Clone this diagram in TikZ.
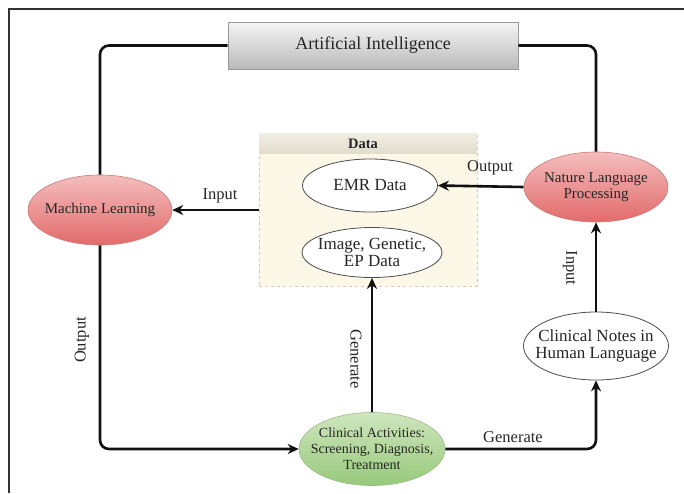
\documentclass[tikz,border=0pt]{standalone}
\usepackage{fontspec}
\setmainfont{Liberation Serif}
\usetikzlibrary{shapes.geometric,arrows.meta}
\definecolor{conncol}{HTML}{111111}
\definecolor{redtop}{HTML}{F4BDBD}
\definecolor{redbot}{HTML}{E26A6A}
\definecolor{redbrd}{HTML}{C97A7A}
\definecolor{grtop}{HTML}{CFE6BE}
\definecolor{grbot}{HTML}{97C97A}
\definecolor{grbrd}{HTML}{9DBB86}
\definecolor{datafill}{HTML}{FCF7E6}
\definecolor{databrd}{HTML}{D8CCA0}
\definecolor{headtop}{HTML}{F0EDE2}
\definecolor{headbot}{HTML}{E2DECE}
\definecolor{txt}{HTML}{262626}
\tikzset{
  conn/.style={line width=2.6pt, draw=conncol, rounded corners=9pt},
  arr/.style={conn, -{Stealth[length=11pt,width=10pt]}},
  redell/.style={ellipse, draw=redbrd, line width=0.6pt, top color=redtop, bottom color=redbot,
    minimum width=144pt, minimum height=70pt, inner sep=0pt},
  redtxt/.style={align=center, text=txt, inner sep=0pt, font=\fontsize{15pt}{16pt}\selectfont},
  whiteell/.style={ellipse, draw=black!70, line width=0.8pt, fill=white, inner sep=0pt},
  whitetxt/.style={align=center, text=txt, inner sep=0pt, font=\fontsize{17pt}{17.5pt}\selectfont},
  greenell/.style={ellipse, draw=grbrd, line width=0.6pt, top color=grtop, bottom color=grbot,
    minimum width=146pt, minimum height=73pt, inner sep=0pt},
  greentxt/.style={align=center, text=txt, inner sep=0pt, font=\fontsize{14pt}{16pt}\selectfont},
  lbl/.style={text=txt, font=\fontsize{16.5pt}{17pt}\selectfont, inner sep=0pt},
}
\begin{document}
\begin{tikzpicture}[x=1pt,y=-1pt]
\useasboundingbox (0,0) rectangle (684,493);
\fill[white] (0,0) rectangle (684,493);
% outer frame
\draw[line width=1.6pt, draw=black!80] (9,493) -- (9,9) -- (684,9);
% data box
\node[draw=databrd, dashed, line width=0.6pt, fill=datafill, minimum width=218pt, minimum height=153pt,
  inner sep=0pt] (data) at (368,209.5) {};
\shade[top color=headtop, bottom color=headbot] ([xshift=0.5pt,yshift=-0.5pt]data.north west) rectangle ([xshift=-0.5pt]data.north east |- 0,153);
\node[font=\bfseries\fontsize{14.5pt}{16pt}\selectfont, text=txt] (datalbl) at (363,143.5) {Data};
% nodes
\node[draw=black!40, line width=0.6pt, top color=black!4, bottom color=black!27,
  minimum width=290pt, minimum height=47pt, inner sep=0pt, text=txt,
  font=\fontsize{18pt}{19pt}\selectfont] (ai) at (373,45.5) {Artificial Intelligence};
\node[redell, label={[redtxt]center:Machine Learning}] (ml) at (100,210) {};
\node[redell, label={[redtxt]center:{Nature Language\\Processing}}] (nlp) at (596,187) {};
\node[whiteell, minimum width=135pt, minimum height=53pt, label={[whitetxt]center:EMR Data}] (emr) at (370,185.5) {};
\node[whiteell, minimum width=140pt, minimum height=50pt, label={[whitetxt]center:{Image, Genetic,\\EP Data}}] (img) at (372,252.5) {};
\node[whiteell, minimum width=145pt, minimum height=68pt, label={[whitetxt]center:{Clinical Notes in\\Human Language}}] (cn) at (596,346) {};
\node[greenell, label={[greentxt]center:{Clinical Activities:\\Screening, Diagnosis,\\Treatment}}] (ca) at (372,449) {};
% connectors
\draw[conn] (ml.north) |- (ai.west);
\draw[conn] (nlp.north) |- (ai.east);
\draw[arr] (data.west |- ml.east) -- (ml.east);
\draw[arr] (nlp.west) -- (emr.east);
\draw[arr] (ml.south) |- (ca.west);
\draw[arr] (ca.east) -| (cn.south);
\draw[arr] (cn.north) -- (nlp.south);
\draw[arr] (ca.north) -- (img.south);
% labels
\node[lbl] (l1) at (220,196) {Input};
\node[lbl] (l2) at (490,168) {Output};
\node[lbl, rotate=90] (l3) at (82,340) {Output};
\node[lbl, rotate=-90] (l4) at (356,359) {Generate};
\node[lbl, rotate=-90] (l5) at (570,268) {Input};
\node[lbl] (l6) at (513,437) {Generate};
\end{tikzpicture}
\end{document}
